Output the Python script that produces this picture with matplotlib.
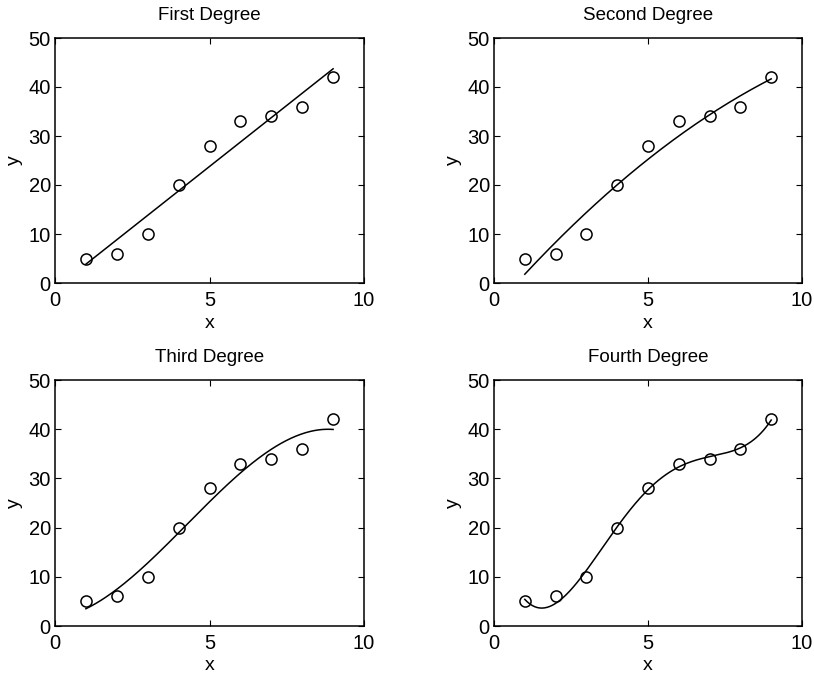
import numpy as np
import matplotlib.pyplot as plt

plt.rcParams['font.family'] = ['Liberation Sans', 'DejaVu Sans']

x_data = [1, 2, 3, 4, 5, 6, 7, 8, 9]
y_data = [5, 6, 10, 20, 28, 33, 34, 36, 42]
degrees = [1, 2, 3, 4]
titles = ['First Degree', 'Second Degree', 'Third Degree', 'Fourth Degree']

fig = plt.figure(figsize=(8.14, 6.73), dpi=100)
W, H = 814, 673
boxes = [(55, 38, 364, 283), (494, 38, 802, 283),
         (55, 380, 364, 626), (494, 380, 802, 626)]

xs = np.linspace(min(x_data), max(x_data), 200)
for deg, title, (l, t, r, b) in zip(degrees, titles, boxes):
    ax = fig.add_axes([l / W, 1 - b / H, (r - l) / W, (b - t) / H])
    coef = np.polyfit(x_data, y_data, deg)
    ax.plot(xs, np.polyval(coef, xs), color='black', linewidth=1.1)
    ax.plot(x_data, y_data, 'o', mfc='none', mec='black', ms=8, mew=1.1)
    ax.set_xlim(0, 10)
    ax.set_ylim(0, 50)
    ax.set_xticks([0, 5, 10])
    ax.set_yticks([0, 10, 20, 30, 40, 50])
    ax.tick_params(direction='in', top=True, right=True, labelsize=14.5, length=4)
    ax.tick_params(axis='x', pad=6)
    ax.tick_params(axis='y', pad=3)
    ax.set_title(title, fontsize=13.5, pad=13)
    ax.set_xlabel('x', fontsize=14, labelpad=3)
    ax.set_ylabel('y', fontsize=14, labelpad=4)
    for s in ax.spines.values():
        s.set_linewidth(1.1)

fig.savefig('out.png', dpi=100)
